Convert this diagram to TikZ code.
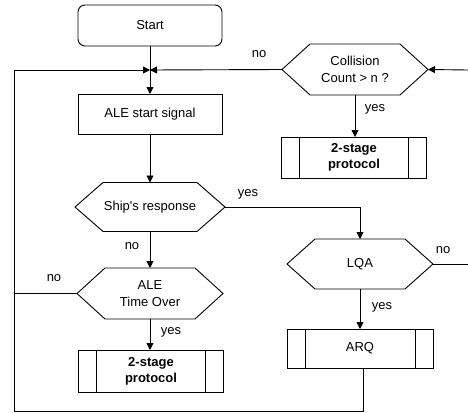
\documentclass[tikz,border=0pt]{standalone}
\usepackage{fontspec}
\setmainfont{Liberation Sans}[Ligatures=TeXOff]
\usetikzlibrary{arrows.meta,calc}
\begin{document}
\begin{tikzpicture}[x=1pt,y=-1pt,
  font=\fontsize{13}{17}\selectfont,
  every node/.style={inner sep=0pt, outer sep=0pt, align=center},
  ln/.style={line width=0.9pt, draw=black},
  arr/.style={ln, -{Triangle[length=7pt,width=7pt]}},
  boxn/.style={draw, line width=0.9pt, minimum width=144pt, minimum height=40pt},
  startn/.style={boxn, rounded corners=7pt, minimum height=41pt},
  hexn/.style={minimum width=146pt, minimum height=50pt},
  predef/.style={boxn, minimum width=145pt, path picture={
     \draw[line width=0.9pt]
       ([xshift=18pt]path picture bounding box.north west) -- ([xshift=18pt]path picture bounding box.south west)
       ([xshift=-18pt]path picture bounding box.north east) -- ([xshift=-18pt]path picture bounding box.south east);}},
  boldtxt/.style={font=\fontsize{13}{16}\selectfont\bfseries},
  lbl/.style={anchor=base}
]
\useasboundingbox (0,0) rectangle (468,412);

% nodes
\node[startn] (start) at (150,25.5) {Start};
\node[boxn] (ale) at (150,114) {ALE start signal};
\node[hexn, minimum width=150pt, minimum height=49pt] (ship) at (150,207) {Ship's response};
\node[hexn, minimum height=51pt] (ato) at (150,293.5) {ALE\\Time Over};
\node[predef, boldtxt, minimum height=42pt] (p2) at (151,371) {2-stage\\protocol};
\node[hexn, minimum height=51pt] (coll) at (355,69.5) {Collision\\Count > n ?};
\node[predef, boldtxt, minimum height=41pt] (p1) at (354,157.5) {2-stage\\protocol};
\node[hexn] (lqa) at (360,264) {LQA};
\node[predef, minimum width=146pt, minimum height=39pt] (arq) at (360,348.5) {ARQ};

% hexagon outlines
\foreach \n in {coll,ship,ato,lqa}
  \draw[ln] (\n.west) -- ([xshift=28pt]\n.north west) -- ([xshift=-28pt]\n.north east)
     -- (\n.east) -- ([xshift=-28pt]\n.south east) -- ([xshift=28pt]\n.south west) -- cycle;

% coordinates
\coordinate (m) at (150,70);
\coordinate (lft) at (14,70);
\coordinate (bot) at (14,411);
\coordinate (rtop) at (468,70);
\coordinate (rmid) at (468,264);

% connectors
\draw[ln] (start.south) -- (m);
\draw[arr] (m) -- (ale.north);
\draw[arr] (coll.west) -- (m);
\draw[arr] (ato.west) -| (lft) -- (m);
\draw[ln] ([xshift=3pt]arq.south) |- (bot) -- (lft |- ato.west);
\draw[arr] (rtop) -- (coll.east);
\draw[arr] (coll.south) -- (coll.south |- p1.north);
\draw[arr] (ale.south) -- (ship.north);
\draw[arr] (ship.east) -| (lqa.north);
\draw[arr] (ship.south) -- (ato.north);
\draw[arr] (ato.south) -- (ato.south |- p2.north);
\draw[arr] (lqa.south) -- (arq.north);
\draw[ln] (lqa.east) -- (rmid);

% labels
\node[lbl] (l1) at (259,58) {no};
\node[lbl] (l2) at (375,111) {yes};
\node[lbl] (l3) at (248,196) {yes};
\node[lbl] (l4) at (132,249) {no};
\node[lbl] (l5) at (54,281) {no};
\node[lbl] (l6) at (171,334) {yes};
\node[lbl] (l7) at (443,253) {no};
\node[lbl] (l8) at (382,309) {yes};
\end{tikzpicture}
\end{document}
